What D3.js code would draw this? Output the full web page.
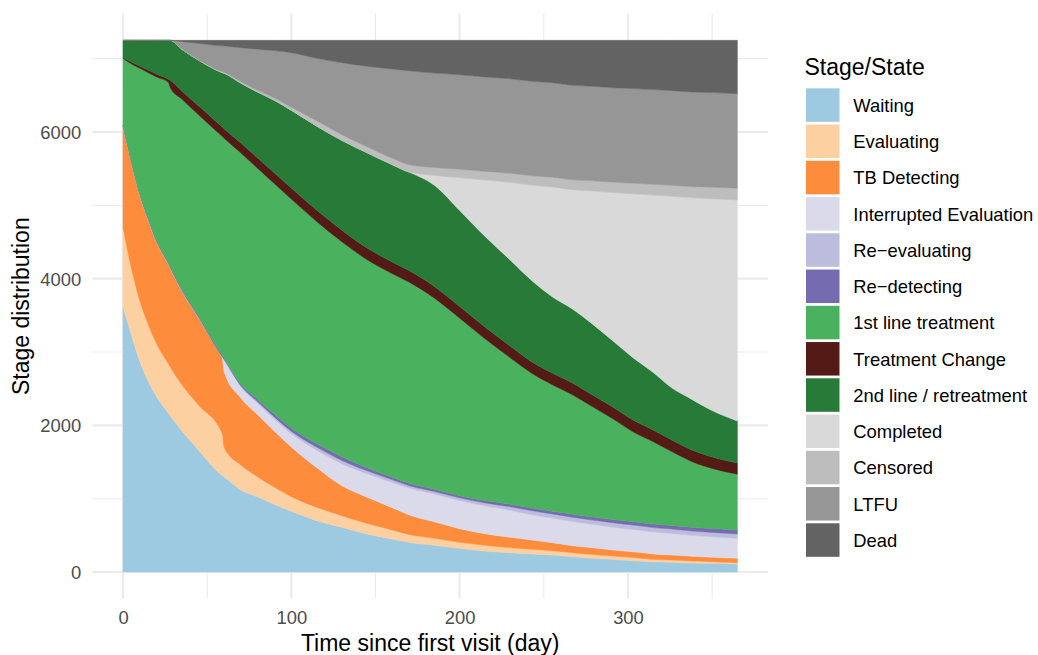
<!DOCTYPE html>
<html>
<head>
<meta charset="utf-8">
<script src="https://cdn.jsdelivr.net/npm/d3@7"></script>
<style>
  html, body { margin: 0; padding: 0; background: #ffffff; }
  svg { display: block; font-family: "Liberation Sans", Arial, Helvetica, sans-serif; }
</style>
</head>
<body>
<svg id="chart" width="1038" height="655"></svg>
<script>
// Daily stage distribution of the cohort (sampled days since first visit)
const days = [0, 5, 10, 15, 20, 27, 28, 35, 45, 59, 60, 70, 80, 90, 100, 115, 130, 145, 160, 170,
              185, 200, 215, 230, 243, 255, 267, 279, 291, 303, 315, 326, 338, 350, 365];

const waiting = [3617, 3231, 2870, 2600, 2390, 2165, 2133, 1925, 1660, 1315, 1300, 1118, 1025, 920, 830, 700, 610, 520, 450, 405,
                 365, 323, 286, 263, 245, 232, 209, 187, 173, 154, 140, 132, 123, 119, 109];
const evaluating = [1077, 909, 830, 775, 718, 672, 666, 627, 613, 568, 400, 341, 272, 236, 198, 184, 158, 142, 123, 105,
                    95, 82, 78, 68, 64, 59, 55, 52, 45, 44, 33, 31, 28, 22, 18];
const tbDetecting = [1391, 1453, 1445, 1431, 1395, 1363, 1355, 1282, 1192, 1044, 1040, 915, 848, 763, 677, 540, 409, 359, 304, 269,
                     224, 185, 158, 142, 127, 109, 95, 91, 82, 78, 74, 68, 64, 60, 60];
const interruptedEval = [0, 0, 0, 0, 0, 0, 0, 0, 0, 0, 150, 150, 155, 165, 180, 240, 300, 320, 345, 365,
                         380, 385, 380, 370, 345, 335, 330, 320, 312, 305, 300, 295, 285, 280, 273];
const reEvaluating = [0, 0, 2, 3, 3, 3, 3, 4, 4, 5, 10, 15, 22, 28, 34, 40, 45, 40, 36, 34,
                      34, 36, 40, 48, 55, 57, 58, 58, 59, 59, 59, 59, 59, 59, 59];
const reDetecting = [10, 12, 13, 14, 15, 15, 15, 16, 17, 20, 20, 25, 32, 38, 42, 48, 50, 40, 35, 32,
                     30, 30, 32, 34, 36, 38, 40, 42, 44, 46, 48, 50, 52, 54, 55];
const firstLine = [911, 1323, 1708, 1986, 2228, 2458, 2435, 2593, 2747, 2985, 2996, 3150, 3150, 3145, 3124, 3028, 2932, 2838, 2775, 2742,
                   2606, 2421, 2208, 1998, 1836, 1725, 1630, 1503, 1374, 1226, 1122, 1007, 894, 819, 760];
const treatmentChange = [15, 25, 30, 35, 40, 45, 100, 110, 120, 130, 130, 135, 140, 145, 150, 155, 158, 158, 158, 158,
                         158, 158, 158, 158, 155, 158, 160, 160, 160, 160, 160, 158, 158, 155, 152];
const secondLine = [229, 297, 352, 406, 461, 529, 543, 570, 625, 743, 756, 818, 901, 992, 1061, 1147, 1224, 1300, 1328, 1344,
                    1381, 1309, 1237, 1174, 1108, 1041, 1009, 966, 903, 849, 785, 711, 691, 633, 574];
const completed = [0, 0, 0, 0, 0, 0, 0, 0, 0, 0, 0, 0, 0, 0, 0, 0, 0, 0, 0, 0,
                   135, 449, 768, 1059, 1302, 1497, 1626, 1817, 2022, 2236, 2419, 2613, 2748, 2890, 3013];
const censored = [0, 0, 0, 0, 0, 0, 0, 0, 5, 12, 12, 18, 23, 30, 42, 72, 78, 82, 88, 100,
                  108, 114, 118, 124, 130, 133, 136, 138, 142, 145, 148, 150, 153, 156, 160];
const ltfu = [0, 0, 0, 0, 0, 0, 0, 105, 226, 353, 360, 465, 562, 648, 744, 851, 982, 1097, 1217, 1280,
              1287, 1288, 1288, 1288, 1288, 1289, 1289, 1289, 1289, 1290, 1290, 1290, 1290, 1290, 1290];
const dead = [0, 0, 0, 0, 0, 0, 0, 18, 41, 75, 76, 100, 120, 140, 168, 245, 304, 354, 391, 416,
              447, 470, 499, 524, 559, 577, 613, 627, 645, 658, 672, 686, 705, 713, 727];

const stageNames = ["Waiting", "Evaluating", "TB Detecting", "Interrupted Evaluation", "Re\u2212evaluating",
                    "Re\u2212detecting", "1st line treatment", "Treatment Change", "2nd line / retreatment",
                    "Completed", "Censored", "LTFU", "Dead"];
const stageColors = ["#9ecae1", "#fdd0a2", "#fd8d3c", "#dadaeb", "#bcbddc", "#756bb1", "#4ab25e",
                     "#541a16", "#277a38", "#d9d9d9", "#bdbdbd", "#969696", "#636363"];

const xTicks = [0, 100, 200, 300];
const xMinorTicks = [50, 150, 250, 350];
const yTicks = [0, 2000, 4000, 6000];
const yMinorTicks = [1000, 3000, 5000, 7000];

const xTitle = "Time since first visit (day)";
const yTitle = "Stage distribution";
const legendTitle = "Stage/State";

// ---- build stacked layers ----
const seriesValues = [waiting, evaluating, tbDetecting, interruptedEval, reEvaluating, reDetecting,
                      firstLine, treatmentChange, secondLine, completed, censored, ltfu, dead];
const rows = days.map((d, i) => {
  const r = { day: d };
  stageNames.forEach((name, k) => { r[name] = seriesValues[k][i]; });
  return r;
});
const layers = d3.stack().keys(stageNames)(rows);

// ---- scales (5% padding on both axes) ----
const panel = { left: 92.3, right: 768.1, top: 13.75, bottom: 598.6 };
const xMin = d3.min(days), xMax = d3.max(days);
const xPad = (xMax - xMin) * 0.05;
const yMax = d3.max(layers[layers.length - 1], d => d[1]);
const yPad = yMax * 0.05;

const x = d3.scaleLinear().domain([xMin - xPad, xMax + xPad]).range([panel.left, panel.right]);
const y = d3.scaleLinear().domain([-yPad, yMax + yPad]).range([panel.bottom, panel.top]);

const svg = d3.select("#chart");

// ---- grid ----
const grid = svg.append("g").attr("stroke", "#ebebeb").attr("fill", "none");
grid.selectAll(".ymin").data(yMinorTicks).join("line")
  .attr("x1", panel.left).attr("x2", panel.right)
  .attr("y1", d => y(d)).attr("y2", d => y(d)).attr("stroke-width", 1.1);
grid.selectAll(".xmin").data(xMinorTicks).join("line")
  .attr("y1", panel.top).attr("y2", panel.bottom)
  .attr("x1", d => x(d)).attr("x2", d => x(d)).attr("stroke-width", 1.1);
grid.selectAll(".ymaj").data(yTicks).join("line")
  .attr("x1", panel.left).attr("x2", panel.right)
  .attr("y1", d => y(d)).attr("y2", d => y(d)).attr("stroke-width", 2.2);
grid.selectAll(".xmaj").data(xTicks).join("line")
  .attr("y1", panel.top).attr("y2", panel.bottom)
  .attr("x1", d => x(d)).attr("x2", d => x(d)).attr("stroke-width", 2.2);

// ---- stacked areas ----
const area = d3.area()
  .x(d => x(d.data.day))
  .y0(d => y(d[0]))
  .y1(d => y(d[1]))
  .curve(d3.curveMonotoneX);

svg.append("g").selectAll("path").data(layers).join("path")
  .attr("d", area)
  .attr("fill", (d, i) => stageColors[i])
  .attr("stroke", (d, i) => stageColors[i])
  .attr("stroke-width", 0.5)
  .attr("stroke-linejoin", "round");

// ---- axes ----
const tickFont = 18.4;
const xAxis = svg.append("g")
  .attr("transform", `translate(0,${panel.bottom})`)
  .call(d3.axisBottom(x).tickValues(xTicks).tickSize(0).tickPadding(12.3).tickFormat(d3.format("d")));
xAxis.select(".domain").remove();
xAxis.selectAll("text").attr("font-size", tickFont).attr("fill", "#4d4d4d")
  .attr("font-family", "Liberation Sans, Arial, sans-serif");

const yAxis = svg.append("g")
  .attr("transform", `translate(${panel.left},0)`)
  .call(d3.axisLeft(y).tickValues(yTicks).tickSize(0).tickPadding(11.1).tickFormat(d3.format("d")));
yAxis.select(".domain").remove();
yAxis.selectAll("text").attr("font-size", tickFont).attr("fill", "#4d4d4d").attr("dy", "0.36em")
  .attr("font-family", "Liberation Sans, Arial, sans-serif");

// ---- axis titles ----
svg.append("text")
  .attr("x", (panel.left + panel.right) / 2).attr("y", 651)
  .attr("text-anchor", "middle").attr("font-size", 23).attr("fill", "#000")
  .text(xTitle);

svg.append("text")
  .attr("transform", `translate(29,${(panel.top + panel.bottom) / 2}) rotate(-90)`)
  .attr("text-anchor", "middle").attr("font-size", 23).attr("fill", "#000")
  .text(yTitle);

// ---- legend ----
const legend = svg.append("g");
legend.append("text")
  .attr("x", 804.5).attr("y", 74.5)
  .attr("font-size", 23).attr("fill", "#000")
  .text(legendTitle);

const keyTop = 88.3, keyPitch = 36.25, keySize = 33.5;
const items = legend.selectAll("g.item").data(stageNames).join("g")
  .attr("transform", (d, i) => `translate(806,${keyTop + i * keyPitch})`);
items.append("rect")
  .attr("width", keySize).attr("height", keySize)
  .attr("fill", (d, i) => stageColors[i]);
items.append("text")
  .attr("x", 47.3).attr("y", keySize / 2 + 6.8)
  .attr("font-size", tickFont).attr("fill", "#000")
  .text(d => d);
</script>
</body>
</html>
